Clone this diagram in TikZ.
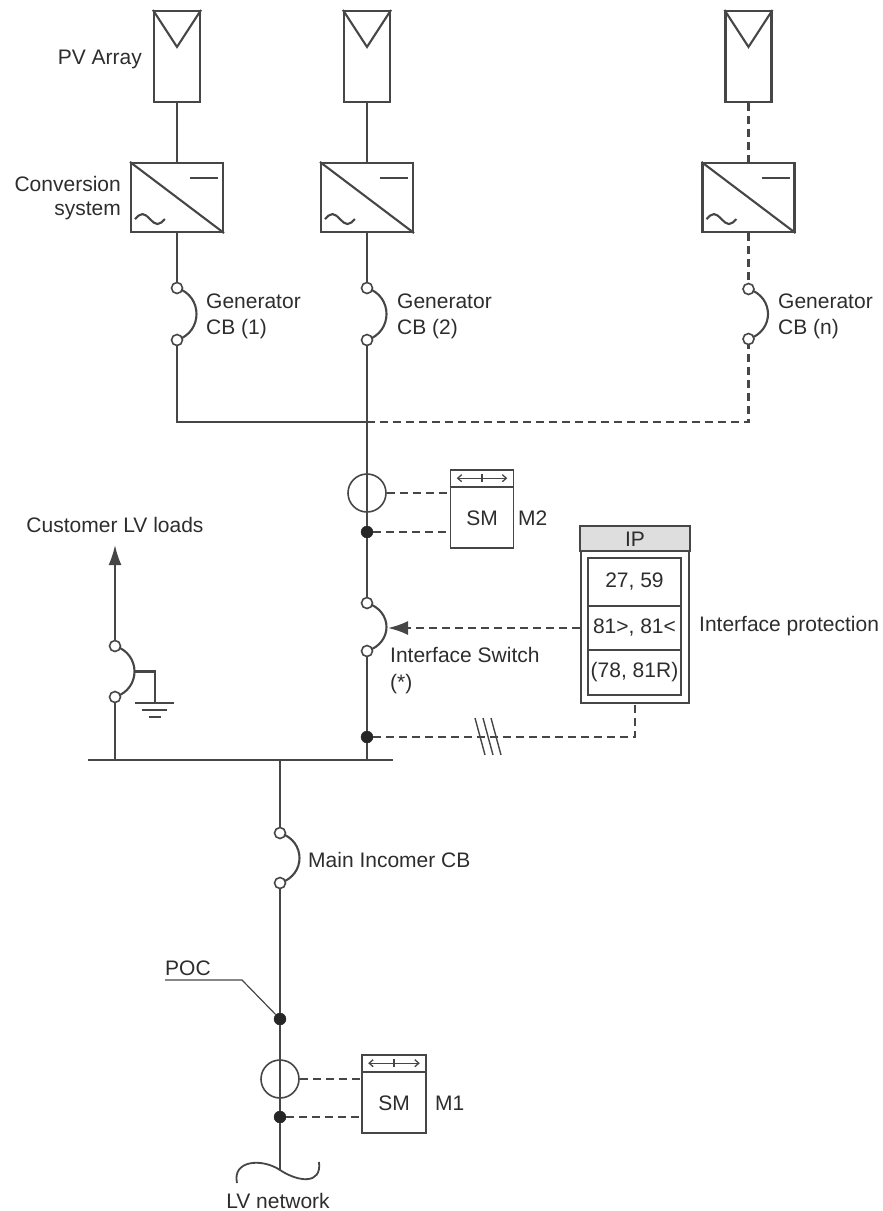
\documentclass[tikz,border=0pt]{standalone}
\usepackage{fontspec}
\setmainfont{Liberation Sans}
\usetikzlibrary{arrows.meta,calc}
\definecolor{lc}{RGB}{70,70,70}
\definecolor{tc}{RGB}{45,45,45}
\newcommand{\CBsym}[4]{%
  \draw[wire] (#2,#3) .. controls (#2+26,#3+8) and (#2+26,#4-8) .. (#2,#4);
  \node[term] (#1t) at (#2,#3) {};
  \node[term] (#1b) at (#2,#4) {};
}
\newcommand{\SMdetail}[1]{%
  \draw[lc,line width=1.6pt] ([yshift=-18pt]#1.north west) -- ([yshift=-18pt]#1.north east);
  \draw[lc,line width=1.3pt,{Straight Barb[length=4pt,width=7pt]}-{Straight Barb[length=4pt,width=7pt]}] ([xshift=7pt,yshift=-9pt]#1.north west) -- ([xshift=-7pt,yshift=-9pt]#1.north east);
  \draw[lc,line width=1.3pt] ([yshift=-5pt]#1.north) -- ([yshift=-13pt]#1.north);
  \node[lbl,anchor=base] at ([yshift=-16.5pt]#1.center) {SM};
}
\begin{document}
\begin{tikzpicture}[x=1pt,y=-1pt,
  wire/.style={draw=lc,line width=2.1pt},
  dwire/.style={wire,dash pattern=on 8pt off 5pt},
  term/.style={circle,draw=lc,fill=white,line width=1.6pt,inner sep=0pt,minimum size=11pt},
  jdot/.style={circle,fill=black!85,draw=black!85,inner sep=0pt,minimum size=12pt},
  lbl/.style={text=tc,font=\fontsize{21}{24}\selectfont,inner sep=0pt},
  pvbox/.style={draw=lc,line width=2.1pt,minimum width=46pt,minimum height=91pt,inner sep=0pt},
  convbox/.style={draw=lc,line width=2.1pt,minimum width=92pt,minimum height=69pt,inner sep=0pt},
  ctc/.style={circle,draw=lc,line width=1.6pt,minimum size=38pt,inner sep=0pt},
  smbox/.style={draw=lc,line width=1.6pt,minimum width=63pt,minimum height=78pt,inner sep=0pt},
  iprow/.style={draw=lc,line width=1.6pt,minimum width=93pt,inner sep=0pt,lbl}
]
\useasboundingbox (0,0) rectangle (883,1211);

% ---------- PV arrays ----------
\foreach \n/\xx in {1/177,2/367,n/748.5}{
  \node[pvbox] (pv\n) at (\xx,56.5) {};
  \draw[wire] (pv\n.north west) -- ($(pv\n.north)+(0,37)$) -- (pv\n.north east);
  \node[convbox] (cv\n) at (\xx,197.5) {};
  \draw[wire] (cv\n.north west) -- (cv\n.south east);
  \draw[wire] ($(cv\n.north east)+(-34,16)$) -- ++(28,0);
  \draw[wire] ($(cv\n.south west)+(5,-14)$) sin ++(7.5,-5) cos ++(7.5,5) sin ++(7.5,5) cos ++(7.5,-5);
}
\node[lbl,anchor=base east] at (142,64.5) {PV Array};
\node[lbl,anchor=base east] at (121,191.5) {Conversion};
\node[lbl,anchor=base east] at (121,215.5) {system};

% ---------- generator breakers ----------
\CBsym{cba}{177}{288}{340}
\CBsym{cbb}{367}{288}{340}
\CBsym{cbn}{748.5}{289}{339}
\node[lbl,anchor=base west] at (206,308.5) {Generator};
\node[lbl,anchor=base west] at (206,334.5) {CB (1)};
\node[lbl,anchor=base west] at (397,308.5) {Generator};
\node[lbl,anchor=base west] at (397,334.5) {CB (2)};
\node[lbl,anchor=base west] at (778,308.5) {Generator};
\node[lbl,anchor=base west] at (778,334.5) {CB (n)};

\draw[wire] (pv1.south) -- (cv1.north);
\draw[wire] (pv2.south) -- (cv2.north);
\draw[dwire] (pvn.south) -- (cvn.north);
\draw[wire] (cv1.south) -- (cbat);
\draw[wire] (cv2.south) -- (cbbt);
\draw[dwire] (cvn.south) -- (cbnt);

\coordinate (j2) at (367,422);
\draw[wire] (cbab) |- (j2);
\draw[dwire] (j2) -| (cbnb);

% ---------- generation feeder ----------
\node[jdot] (d2a) at (367,532) {};
\node[jdot] (d2b) at (367,737) {};
\coordinate (bus2) at (367,760);
\CBsym{isw}{367}{603}{651}
\draw[wire] (cbbb) -- (d2a);
\draw[wire] (d2a) -- (iswt);
\draw[wire] (iswb) -- (d2b);
\draw[wire] (d2b) -- (bus2);
\node[ctc] (ct2) at (367,493) {};

\node[smbox] (sm2) at (482,509) {};
\SMdetail{sm2}
\node[lbl,anchor=base west] (m2) at (518,525.5) {M2};
\draw[dwire] (ct2.east) -- (ct2.east -| sm2.west);
\draw[dwire] (d2a) -- (d2a -| sm2.west);

\node[lbl,anchor=base west] at (390,662.5) {Interface Switch};
\node[lbl,anchor=base west] at (390,689.5) {(*)};

% ---------- interface protection ----------
\node[draw=lc,line width=1.6pt,minimum width=108pt,minimum height=176pt,inner sep=0pt] (ip) at (635,615) {};
\draw[lc,line width=1.6pt,fill=black!13] (ip.north west) rectangle ($(ip.north east)+(0,25)$);
\node[lbl,anchor=base] at ($(ip.north)+(0,20)$) {IP};
\node[iprow,minimum height=48pt] (r1) at (634.5,582) {27, 59};
\node[iprow,minimum height=44pt] (r2) at (634.5,628) {81>, 81<};
\node[iprow,minimum height=45pt] (r3) at (634.5,672.5) {(78, 81R)};
\node[lbl,anchor=base west] at (699,631.5) {Interface protection};

\coordinate (iswarc) at (388,628);
\draw[dwire,-{Latex[length=20pt,width=14pt]}] (r2.west -| ip.west) -- (iswarc);
\draw[dwire] (d2b) -| (ip.south);
\foreach \hx in {480,488,496}
  \draw[lc,line width=1.4pt] (\hx-5,718) -- (\hx+5,755);

% ---------- main LV bus ----------
\coordinate (busL) at (88,760);
\coordinate (busR) at (393,760);
\draw[wire] (busL) -- (busR);

% ---------- customer loads ----------
\CBsym{lb}{115}{646}{697}
\coordinate (busA) at (115,760);
\coordinate (load) at (115,545);
\draw[wire] (busA) -- (lbb);
\draw[wire,-{Latex[length=20pt,width=13pt]}] (lbt) -- (load);
\node[lbl,anchor=base] at (115,532.5) {Customer LV loads};
\coordinate (lbmid) at (134.5,671.5);
\coordinate (gnd) at (155,703);
\draw[wire] (lbmid) -| (gnd);
\draw[wire] ($(gnd)+(-20,0)$) -- ($(gnd)+(19,0)$);
\draw[wire] ($(gnd)+(-13,7)$) -- ($(gnd)+(12,7)$);
\draw[wire] ($(gnd)+(-6,14)$) -- ($(gnd)+(6,14)$);

% ---------- main incomer ----------
\coordinate (busM) at (280,760);
\CBsym{mi}{280}{833}{883}
\node[lbl,anchor=base west] at (308,867.5) {Main Incomer CB};
\node[jdot] (poc) at (280,1019) {};
\node[jdot] (d1) at (280,1117) {};
\coordinate (wv) at (280,1170);
\draw[wire] (busM) -- (mit);
\draw[wire] (mib) -- (poc);
\draw[wire] (poc) -- (d1);
\draw[wire] (d1) -- (wv);
\node[ctc] (ct1) at (280,1079) {};

\node[lbl,anchor=base west] (poclbl) at (165,975.5) {POC};
\coordinate (pocbend) at (242,980);
\draw[lc,line width=1.2pt] (165,980) -- (pocbend) -- (poc);

\node[smbox,minimum width=64pt] (sm1) at (394,1094) {};
\SMdetail{sm1}
\node[lbl,anchor=base west] (m1) at (435,1110.5) {M1};
\draw[dwire] (ct1.east) -- (ct1.east -| sm1.west);
\draw[dwire] (d1) -- (d1 -| sm1.west);

\draw[wire,line width=1.8pt] (237,1183) .. controls (232,1160) and (262,1158) .. (wv) .. controls (298,1182) and (322,1185) .. (319,1162);
\node[lbl,anchor=base] at (278,1208) {LV network};
\end{tikzpicture}
\end{document}
